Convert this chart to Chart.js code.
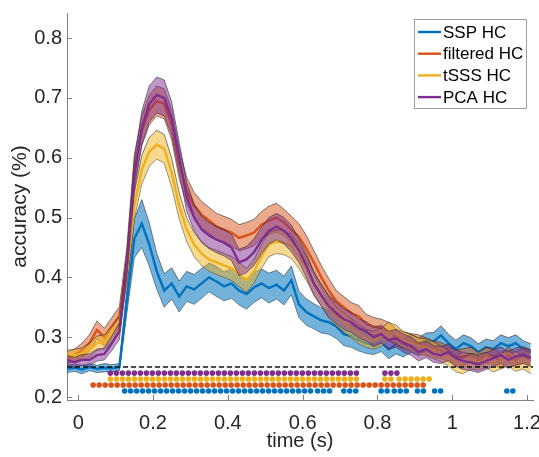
<!DOCTYPE html>
<html lang="en">
<head>
<meta charset="UTF-8">
<title>Decoding accuracy over time</title>
<style>
  body { margin: 0; background: #fff; }
  #wrap { width: 539px; height: 457px; }
</style>
<script src="https://cdn.jsdelivr.net/npm/chart.js"></script>
</head>
<body>
<div id="wrap"><canvas id="accChart" width="539" height="457"></canvas></div>
<script>
// time axis (s)
const times = [-0.03, -0.01, 0.01, 0.03, 0.05, 0.07, 0.09, 0.11, 0.13, 0.15,
  0.17, 0.19, 0.21, 0.23, 0.25, 0.27, 0.29, 0.31, 0.33, 0.35,
  0.37, 0.39, 0.41, 0.43, 0.45, 0.47, 0.49, 0.51, 0.53, 0.55,
  0.57, 0.59, 0.61, 0.63, 0.65, 0.67, 0.69, 0.71, 0.73, 0.75,
  0.77, 0.79, 0.81, 0.83, 0.85, 0.87, 0.89, 0.91, 0.93, 0.95,
  0.97, 0.99, 1.01, 1.03, 1.05, 1.07, 1.09, 1.11, 1.13, 1.15,
  1.17, 1.19, 1.21];

const sspMean = [0.247, 0.249, 0.246, 0.250, 0.247, 0.249, 0.248, 0.250, 0.360, 0.465,
  0.490, 0.455, 0.410, 0.378, 0.390, 0.368, 0.385, 0.380, 0.390, 0.400,
  0.393, 0.385, 0.390, 0.378, 0.372, 0.383, 0.390, 0.382, 0.388, 0.378,
  0.395, 0.355, 0.342, 0.335, 0.328, 0.325, 0.318, 0.305, 0.302, 0.295,
  0.290, 0.287, 0.292, 0.280, 0.288, 0.282, 0.290, 0.284, 0.292, 0.293,
  0.303, 0.290, 0.280, 0.290, 0.285, 0.275, 0.283, 0.280, 0.290, 0.285,
  0.290, 0.280, 0.275];
const sspErr = [0.006, 0.006, 0.007, 0.006, 0.006, 0.007, 0.006, 0.006, 0.020, 0.032,
  0.040, 0.036, 0.030, 0.028, 0.026, 0.026, 0.025, 0.025, 0.025, 0.024,
  0.025, 0.024, 0.025, 0.024, 0.025, 0.025, 0.024, 0.025, 0.024, 0.024,
  0.024, 0.022, 0.022, 0.021, 0.021, 0.020, 0.020, 0.019, 0.019, 0.018,
  0.017, 0.016, 0.016, 0.016, 0.016, 0.015, 0.015, 0.015, 0.015, 0.015,
  0.016, 0.015, 0.015, 0.014, 0.014, 0.014, 0.014, 0.014, 0.014, 0.014,
  0.014, 0.014, 0.014];

const filtMean = [0.265, 0.270, 0.278, 0.290, 0.312, 0.300, 0.318, 0.335, 0.430, 0.580,
  0.645, 0.680, 0.695, 0.690, 0.655, 0.590, 0.545, 0.520, 0.505, 0.495,
  0.485, 0.480, 0.475, 0.466, 0.470, 0.475, 0.488, 0.495, 0.500, 0.492,
  0.480, 0.468, 0.448, 0.425, 0.400, 0.378, 0.360, 0.350, 0.340, 0.335,
  0.322, 0.318, 0.315, 0.310, 0.300, 0.295, 0.292, 0.290, 0.285, 0.280,
  0.278, 0.272, 0.265, 0.268, 0.270, 0.262, 0.270, 0.268, 0.260, 0.270,
  0.262, 0.270, 0.265];
const filtErr = [0.010, 0.010, 0.012, 0.014, 0.015, 0.015, 0.015, 0.016, 0.020, 0.025,
  0.025, 0.025, 0.025, 0.025, 0.025, 0.025, 0.022, 0.022, 0.022, 0.022,
  0.022, 0.022, 0.022, 0.022, 0.022, 0.022, 0.022, 0.024, 0.024, 0.022,
  0.022, 0.022, 0.022, 0.020, 0.020, 0.020, 0.018, 0.018, 0.018, 0.018,
  0.016, 0.015, 0.015, 0.015, 0.014, 0.014, 0.014, 0.014, 0.014, 0.014,
  0.013, 0.013, 0.013, 0.013, 0.013, 0.013, 0.013, 0.013, 0.013, 0.013,
  0.013, 0.013, 0.013];

const tsssMean = [0.268, 0.270, 0.272, 0.278, 0.290, 0.292, 0.305, 0.320, 0.410, 0.520,
  0.580, 0.610, 0.622, 0.615, 0.575, 0.520, 0.480, 0.455, 0.440, 0.430,
  0.425, 0.420, 0.415, 0.405, 0.395, 0.410, 0.435, 0.455, 0.460, 0.458,
  0.452, 0.435, 0.415, 0.390, 0.370, 0.350, 0.335, 0.325, 0.315, 0.305,
  0.298, 0.295, 0.300, 0.310, 0.305, 0.295, 0.290, 0.285, 0.283, 0.278,
  0.272, 0.265, 0.255, 0.252, 0.260, 0.258, 0.262, 0.255, 0.260, 0.265,
  0.256, 0.260, 0.252];
const tsssErr = [0.010, 0.010, 0.010, 0.012, 0.012, 0.012, 0.013, 0.014, 0.018, 0.022,
  0.024, 0.024, 0.024, 0.024, 0.024, 0.022, 0.020, 0.020, 0.020, 0.020,
  0.020, 0.020, 0.020, 0.020, 0.020, 0.020, 0.020, 0.020, 0.020, 0.020,
  0.020, 0.020, 0.020, 0.018, 0.018, 0.018, 0.016, 0.016, 0.016, 0.016,
  0.015, 0.015, 0.015, 0.015, 0.015, 0.014, 0.014, 0.014, 0.014, 0.014,
  0.013, 0.013, 0.013, 0.013, 0.013, 0.013, 0.013, 0.013, 0.013, 0.013,
  0.013, 0.013, 0.013];

const pcaMean = [0.262, 0.258, 0.262, 0.262, 0.270, 0.272, 0.290, 0.310, 0.420, 0.570,
  0.650, 0.690, 0.705, 0.700, 0.665, 0.600, 0.535, 0.500, 0.480, 0.470,
  0.463, 0.458, 0.450, 0.425, 0.430, 0.442, 0.462, 0.478, 0.485, 0.478,
  0.465, 0.445, 0.420, 0.390, 0.370, 0.352, 0.340, 0.330, 0.325, 0.315,
  0.310, 0.300, 0.305, 0.295, 0.298, 0.290, 0.285, 0.275, 0.280, 0.272,
  0.270, 0.275, 0.265, 0.260, 0.258, 0.255, 0.260, 0.265, 0.270, 0.262,
  0.268, 0.270, 0.265];
const pcaErr = [0.008, 0.008, 0.009, 0.010, 0.010, 0.010, 0.012, 0.014, 0.020, 0.026,
  0.028, 0.030, 0.030, 0.030, 0.028, 0.026, 0.024, 0.022, 0.022, 0.022,
  0.022, 0.022, 0.022, 0.022, 0.022, 0.022, 0.022, 0.022, 0.022, 0.022,
  0.022, 0.020, 0.020, 0.020, 0.018, 0.018, 0.018, 0.017, 0.017, 0.016,
  0.016, 0.016, 0.015, 0.015, 0.015, 0.015, 0.015, 0.015, 0.014, 0.014,
  0.014, 0.014, 0.014, 0.014, 0.014, 0.014, 0.014, 0.014, 0.014, 0.014,
  0.014, 0.014, 0.014];

// significant time windows [start, end] (s), one row of dots per method
const sspSig = [[0.124, 0.627], [0.64, 0.687], [0.71, 0.745], [0.81, 0.83],
  [0.845, 0.888], [0.907, 0.927], [0.953, 0.975], [1.146, 1.178]];
const filtSig = [[0.04, 0.927]];
const tsssSig = [[0.086, 0.748], [0.82, 0.845], [0.858, 0.953]];
const pcaSig = [[0.086, 0.757], [0.82, 0.853]];
const sigLevels = [0.21, 0.22, 0.23, 0.24];

const chance = 0.25;
const xTicks = [0, 0.2, 0.4, 0.6, 0.8, 1, 1.2];
const yTicks = [0.2, 0.3, 0.4, 0.5, 0.6, 0.7, 0.8];

const series = [
  { label: 'SSP HC', mean: sspMean, err: sspErr, sig: sspSig, color: '#0072BD', band: 'rgba(0,114,189,0.55)' },
  { label: 'filtered HC', mean: filtMean, err: filtErr, sig: filtSig, color: '#D95319', band: 'rgba(217,83,25,0.5)' },
  { label: 'tSSS HC', mean: tsssMean, err: tsssErr, sig: tsssSig, color: '#EDB120', band: 'rgba(237,177,32,0.5)' },
  { label: 'PCA HC', mean: pcaMean, err: pcaErr, sig: pcaSig, color: '#7E2F8E', band: 'rgba(126,47,142,0.5)' }
];

const edge = 'rgba(45,45,45,0.75)';
const datasets = [];
let order = 20;
series.forEach((s, i) => {
  const lowIdx = datasets.length;
  datasets.push({
    data: times.map((t, k) => ({ x: t, y: s.mean[k] - s.err[k] })),
    borderColor: edge, borderWidth: 0.8, pointRadius: 0, fill: false, order: order--
  });
  datasets.push({
    data: times.map((t, k) => ({ x: t, y: s.mean[k] + s.err[k] })),
    borderColor: edge, borderWidth: 0.8, pointRadius: 0,
    fill: { target: lowIdx }, backgroundColor: s.band, order: order--
  });
  datasets.push({
    label: s.label,
    data: times.map((t, k) => ({ x: t, y: s.mean[k] })),
    borderColor: s.color, borderWidth: 2.4, pointRadius: 0, fill: false, order: order--
  });
});

// chance level
datasets.push({
  data: [{ x: -0.03, y: chance }, { x: 1.216, y: chance }],
  borderColor: '#111', borderWidth: 1.5, borderDash: [5, 3], pointRadius: 0, fill: false, order: 1
});

// significance dots: dotted lines with round caps
series.forEach((s, i) => {
  const pts = [];
  s.sig.forEach(([a, b]) => {
    pts.push({ x: a, y: sigLevels[i] }, { x: b, y: sigLevels[i] }, { x: b + 0.001, y: null });
  });
  datasets.push({
    data: pts, borderColor: s.color, borderWidth: 5.6, borderDash: [0, 6],
    borderCapStyle: 'round', pointRadius: 0, fill: false, spanGaps: false, order: 0
  });
});

const txt = '#262626';
const font = 'Arial, "Liberation Sans", sans-serif';

// MATLAB-style inward tick marks + legend box
const extras = {
  id: 'extras',
  afterDraw(chart) {
    const { ctx, chartArea: a, scales: { x, y } } = chart;
    ctx.save();
    ctx.strokeStyle = '#808080';
    ctx.lineWidth = 1;
    ctx.beginPath();
    yTicks.forEach(v => {
      const py = Math.round(y.getPixelForValue(v)) + 0.5;
      ctx.moveTo(a.left, py); ctx.lineTo(a.left + 5, py);
    });
    xTicks.forEach(v => {
      const px = Math.round(x.getPixelForValue(v)) + 0.5;
      ctx.moveTo(px, a.bottom); ctx.lineTo(px, a.bottom - 5);
    });
    ctx.stroke();

    // legend
    const bx = 414.5, by = 19.5, bw = 112, bh = 89;
    ctx.fillStyle = '#fff';
    ctx.fillRect(bx, by, bw, bh);
    ctx.strokeStyle = '#a0a0a0';
    ctx.strokeRect(bx, by, bw, bh);
    ctx.font = '17px ' + font;
    ctx.textBaseline = 'middle';
    series.forEach((s, i) => {
      const ry = 32 + i * 21.7;
      ctx.strokeStyle = s.color;
      ctx.lineWidth = 2.4;
      ctx.beginPath();
      ctx.moveTo(418, ry); ctx.lineTo(441, ry);
      ctx.stroke();
      ctx.fillStyle = '#000';
      ctx.fillText(s.label, 443, ry + 1);
    });
    ctx.restore();
  }
};

new Chart(document.getElementById('accChart'), {
  type: 'line',
  data: { datasets },
  options: {
    responsive: false,
    animation: false,
    layout: { padding: { top: 13, right: 6, left: 0, bottom: 0 } },
    plugins: { legend: { display: false }, tooltip: { enabled: false } },
    scales: {
      x: {
        type: 'linear', min: -0.03, max: 1.216,
        grid: { display: false, drawTicks: false },
        border: { display: true, color: '#808080', width: 1 },
        afterFit: s => { s.height = 57; s.paddingLeft = 0; s.paddingRight = 0; },
        afterBuildTicks: s => { s.ticks = xTicks.map(v => ({ value: v })); },
        ticks: {
          padding: 11, color: txt, font: { family: font, size: 20 },
          callback: v => String(+v.toFixed(1))
        },
        title: { display: true, text: 'time (s)', color: txt, font: { family: font, size: 20 }, padding: { top: 0, bottom: 4 } }
      },
      y: {
        min: 0.195, max: 0.842,
        grid: { display: false, drawTicks: false },
        border: { display: true, color: '#808080', width: 1 },
        afterFit: s => { s.width = 67; s.paddingTop = 0; s.paddingBottom = 0; },
        afterBuildTicks: s => { s.ticks = yTicks.map(v => ({ value: v })); },
        ticks: {
          padding: 5, color: txt, font: { family: font, size: 20 },
          callback: v => v.toFixed(1)
        },
        title: { display: true, text: 'accuracy (%)', color: txt, font: { family: font, size: 21 }, padding: { top: 8, bottom: 0 } }
      }
    }
  },
  plugins: [extras]
});
</script>
</body>
</html>
